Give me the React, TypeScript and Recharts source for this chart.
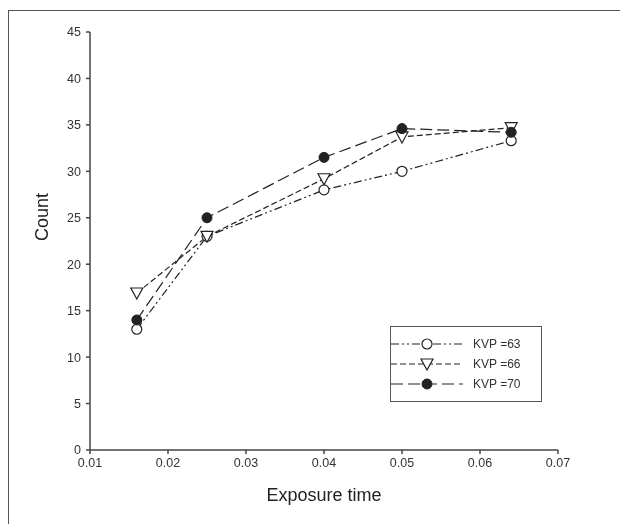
import { LineChart, Line, XAxis, YAxis, Legend } from 'recharts';

const exposure = [0.016, 0.025, 0.04, 0.05, 0.064];
const kvp63 = [13, 23, 28, 30, 33.3];
const kvp66 = [16.9, 23, 29.2, 33.7, 34.7];
const kvp70 = [14, 25, 31.5, 34.6, 34.2];
const xTicks = [0.01, 0.02, 0.03, 0.04, 0.05, 0.06, 0.07];
const yTicks = [0, 5, 10, 15, 20, 25, 30, 35, 40, 45];

const seriesNames = ['KVP =63', 'KVP =66', 'KVP =70'];

const data = exposure.map((t, i) => ({
  t,
  k63: kvp63[i],
  k66: kvp66[i],
  k70: kvp70[i],
}));

const FONT = '"Liberation Sans", Arial, sans-serif';
const INK = '#222';

const OpenCircle = (props: any) => {
  const { cx, cy } = props;
  if (cx == null || cy == null) return null;
  return <circle cx={cx} cy={cy} r={5} fill="#fff" stroke={INK} strokeWidth={1.2} />;
};

const FilledCircle = (props: any) => {
  const { cx, cy } = props;
  if (cx == null || cy == null) return null;
  return <circle cx={cx} cy={cy} r={5} fill={INK} stroke={INK} strokeWidth={1} />;
};

const DownTriangle = (props: any) => {
  const { cx, cy } = props;
  if (cx == null || cy == null) return null;
  const pts = `${cx - 6},${cy - 5} ${cx + 6},${cy - 5} ${cx},${cy + 6}`;
  return <polygon points={pts} fill="#fff" stroke={INK} strokeWidth={1.2} />;
};

const dashes = ['8 3 2 3 2 3', '6 3', '12 5'];
const markers = [OpenCircle, DownTriangle, FilledCircle];

// boxed legend like the SigmaPlot original
const LegendBox = () => (
  <div
    style={{
      border: '1.5px solid #555',
      width: 152,
      height: 76,
      boxSizing: 'border-box',
      padding: '7px 0 0 0',
      fontFamily: FONT,
      fontSize: 12,
      color: '#333',
    }}>
    {seriesNames.map((name, i) => {
      const M = markers[i];
      return (
        <div key={name} style={{ display: 'flex', alignItems: 'center', height: 20 }}>
          <svg width={80} height={16} style={{ display: 'block' }}>
            <line x1={0} y1={8} x2={72} y2={8} stroke={INK} strokeWidth={1.2} strokeDasharray={dashes[i]} />
            <M cx={36} cy={8} />
          </svg>
          <span style={{ marginLeft: 2 }}>{name}</span>
        </div>
      );
    })}
  </div>
);

export default function App() {
  return (
    <div>
      <div
        style={{
          position: 'fixed',
          left: 8,
          top: 10,
          width: 612,
          height: 514,
          borderTop: '1.5px solid #555',
          borderLeft: '1.5px solid #555',
          boxSizing: 'border-box',
        }} />
      <div style={{ position: 'fixed', left: 0, top: 0 }}>
        <LineChart
          width={620}
          height={524}
          data={data}
          margin={{ top: 32, right: 62, left: 40, bottom: 14 }}>
          <XAxis
            dataKey="t"
            type="number"
            domain={[0.01, 0.07]}
            ticks={xTicks}
            tickFormatter={(v: number) => v.toFixed(2)}
            height={60}
            stroke="#444"
            strokeWidth={1.5}
            tickSize={4}
            tickMargin={4}
            tick={{ fontSize: 12.5, fill: '#333', fontFamily: FONT }}
            label={{ value: 'Exposure time', position: 'insideBottom', offset: 9, fontSize: 18, fill: '#222', fontFamily: FONT }} />
          <YAxis
            type="number"
            domain={[0, 45]}
            ticks={yTicks}
            width={50}
            stroke="#444"
            strokeWidth={1.5}
            tickSize={4}
            tickMargin={5}
            tick={{ fontSize: 12.5, fill: '#333', fontFamily: FONT }}
            label={{ value: 'Count', angle: -90, position: 'insideLeft', offset: 2, fontSize: 18, fill: '#222', fontFamily: FONT }} />
          <Legend
            layout="horizontal"
            verticalAlign="middle"
            align="center"
            wrapperStyle={{ left: 390, top: 326, width: 152 }}
            content={() => <LegendBox />} />
          <Line
            dataKey="k63"
            name={seriesNames[0]}
            stroke={INK}
            strokeWidth={1.2}
            strokeDasharray={dashes[0]}
            dot={<OpenCircle />}
            activeDot={false}
            isAnimationActive={false} />
          <Line
            dataKey="k66"
            name={seriesNames[1]}
            stroke={INK}
            strokeWidth={1.2}
            strokeDasharray={dashes[1]}
            dot={<DownTriangle />}
            activeDot={false}
            isAnimationActive={false} />
          <Line
            dataKey="k70"
            name={seriesNames[2]}
            stroke={INK}
            strokeWidth={1.2}
            strokeDasharray={dashes[2]}
            dot={<FilledCircle />}
            activeDot={false}
            isAnimationActive={false} />
        </LineChart>
      </div>
    </div>
  );
}
